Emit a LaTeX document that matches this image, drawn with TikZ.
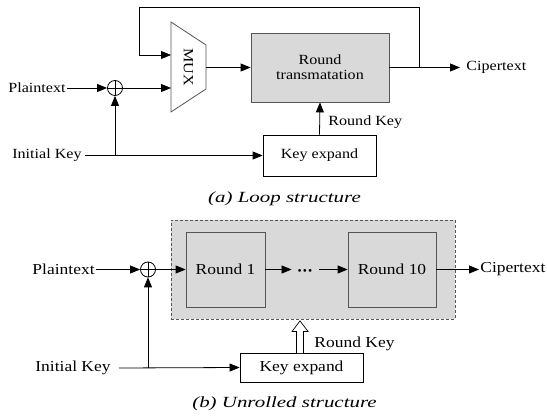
\documentclass[tikz,border=0pt]{standalone}
\usepackage{fontspec}
\setmainfont{Liberation Serif}
\newfontfamily\labfont[FakeStretch=1.15]{Liberation Serif}
\newfontfamily\capfont[FakeStretch=1.35]{Liberation Serif}
\usetikzlibrary{arrows.meta}
\definecolor{boxgray}{RGB}{217,217,217}
\definecolor{edgegray}{RGB}{85,85,85}
\begin{document}
\begin{tikzpicture}[x=1pt,y=-1pt,line width=0.8pt,
  >={Triangle[length=10pt,width=8pt]},
  lbla/.style={font=\labfont\fontsize{14}{16}\selectfont,inner sep=0pt},
  lblb/.style={font=\labfont\fontsize{15.2}{17}\selectfont,inner sep=0pt},
  capt/.style={font=\capfont\itshape\fontsize{15.5}{18}\selectfont,inner sep=0pt},
  graybox/.style={draw=edgegray,fill=boxgray,inner sep=0pt,align=center},
  whitebox/.style={draw=black,fill=white,inner sep=0pt},
  xorsym/.style={circle,draw,fill=white,minimum size=15pt,inner sep=0pt,
    path picture={\draw (path picture bounding box.north) -- (path picture bounding box.south)
      (path picture bounding box.west) -- (path picture bounding box.east);}}]
\useasboundingbox (0,0) rectangle (547,417);

% ---------- (a) loop structure ----------
\node[lbla,anchor=east] (pta) at (66,88) {Plaintext};
\node[lbla,anchor=east] (ika) at (82,155.5) {Initial Key};
\node[xorsym] (xa) at (115,88) {};

% multiplexer
\coordinate (muxin1) at (171,55);
\coordinate (muxin2) at (171,88);
\coordinate (muxout) at (206,67.5);
\draw[draw=edgegray] (171,22) -- (206,45) -- (206,89) -- (171,112) -- cycle;
\node[lbla,rotate=-90] (mux) at (188.5,67) {MUX};

\node[graybox,lbla,minimum width=138pt,minimum height=69pt] (rta) at (320,67.5)
  {Round\\[-1pt]transmatation};
\node[whitebox,lbla,minimum width=113pt,minimum height=41pt] (kea) at (319.5,155.5) {Key expand};
\node[lbla,anchor=west] (cta) at (466,67.5) {Cipertext};
\node[lbla,anchor=west] (rka) at (328,122) {Round Key};

\draw[->] ([xshift=1pt]pta.east) -- (xa.west);
\draw[->] (xa.east) -- (muxin2);
\draw[->] (muxout) -- (rta.west);
\draw[->] (rta.east) -- ([xshift=-6pt]cta.west);
\coordinate (fb) at (419,67.5);
\coordinate (loopL) at (139,7);
\draw[->] (fb) |- (loopL) |- (muxin1);
\coordinate (ja) at (xa |- kea.west);
\draw[->] ([xshift=3pt]ika.east) -- (kea.west);
\draw[->] (ja) -- (xa.south);
\draw[->] (kea.north) -- (rta.south);

\node[capt] (capa) at (284.5,199) {(a) Loop structure};

% ---------- (b) unrolled structure ----------
\node[draw=edgegray,fill=boxgray,dash pattern=on 3pt off 2pt,minimum width=284pt,
  minimum height=99pt,inner sep=0pt] (dbox) at (313,269.5) {};
\node[graybox,lblb,minimum width=79pt,minimum height=75pt] (r1) at (225.5,269.5) {Round 1};
\node[graybox,lblb,minimum width=88pt,minimum height=75pt] (r10) at (392,269.5) {Round 10};
\node[inner sep=0pt,minimum width=14pt,font=\bfseries\fontsize{17}{17}\selectfont]
  (dots) at (305,273) {·\kern-0.5pt·\kern-0.5pt·};
\coordinate (dl) at (dots.west |- r1.east);
\coordinate (dr) at (dots.east |- r1.east);

\node[lblb,anchor=east] (ptb) at (95,269.5) {Plaintext};
\node[lblb,anchor=east] (ikb) at (111,368) {Initial Key};
\node[xorsym] (xb) at (148,269.5) {};
\node[whitebox,lblb,minimum width=123pt,minimum height=29pt] (keb) at (301.5,367.5) {Key expand};
\node[lblb,anchor=west] (ctb) at (480,269.5) {Cipertext};
\node[lblb,anchor=west] (rkb) at (314,344) {Round Key};

\draw[->] ([xshift=1pt]ptb.east) -- (xb.west);
\draw[->] (xb.east) -- (r1.west);
\draw[->] (r1.east) -- ([xshift=-5pt]dl);
\draw[->] ([xshift=6pt]dr) -- (r10.west);
\draw[->] (r10.east) -- ([xshift=-1pt]ctb.west);
\coordinate (jb) at (xb |- keb.west);
\draw[->] ([xshift=8pt]ikb.east) -- (keb.west);
\draw[->] (jb) -- (xb.south);

% hollow round-key arrow
\coordinate (kbase) at (300,353);
\coordinate (ktip) at (kbase |- dbox.south);
\draw[fill=white,line width=0.7pt] (kbase) ++(-3.5,0) -- ++(0,-21.5) -- ++(-4.5,0) -- ([yshift=-1.5pt]ktip)
  -- ([xshift=8pt,yshift=-12pt]ktip) -- ([xshift=3.5pt,yshift=-12pt]ktip) -- ([xshift=3.5pt]kbase);

\node[capt] (capb) at (284.5,404) {(b) Unrolled structure};
\end{tikzpicture}
\end{document}
